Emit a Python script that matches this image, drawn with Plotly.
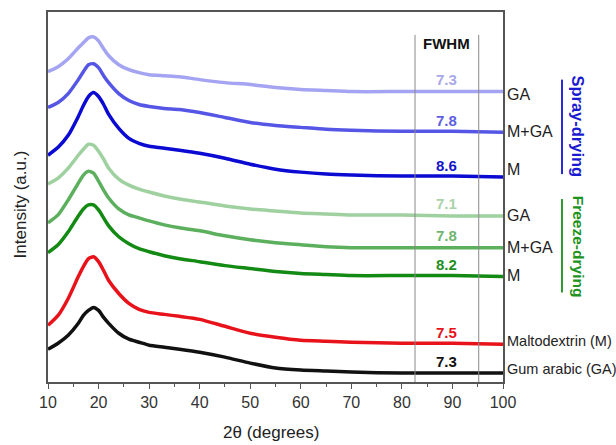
import plotly.graph_objects as go

# 2-theta grid (degrees) shared by all diffractograms
two_theta = [10, 12, 14, 16, 17, 18, 19, 20, 21, 22, 24, 26, 28, 30, 33, 36,
             40, 45, 50, 55, 60, 65, 70, 80, 90, 100]

# Stacked intensities (a.u.), bottom to top
gum_arabic = [33, 39, 47, 59, 67, 72, 75, 72, 65, 59, 49, 43, 40, 37, 35, 33,
              30, 25, 19, 14, 12, 11, 10, 9, 9, 9]
maltodextrin = [57, 67, 84, 106, 116, 124, 126, 121, 112, 102, 89, 79, 73, 70, 68, 66,
                63, 56, 49, 45, 42, 41, 40, 39, 39, 38]
freeze_m = [130, 138, 151, 167, 174, 178, 178, 173, 165, 157, 146, 139, 134, 131, 127, 124,
            121, 117, 114, 111, 109, 108, 107, 107, 107, 106]
freeze_mga = [160, 168, 183, 200, 208, 212, 210, 202, 193, 185, 174, 168, 165, 162, 158, 155,
              152, 147, 143, 140, 138, 136, 135, 135, 135, 135]
freeze_ga = [199, 205, 215, 228, 234, 239, 238, 232, 224, 215, 204, 198, 194, 191, 187, 184,
             181, 177, 174, 172, 170, 169, 168, 168, 167, 167]
spray_m = [228, 236, 248, 267, 278, 287, 291, 287, 279, 269, 255, 245, 240, 237, 235, 233,
           230, 225, 219, 214, 211, 209, 208, 207, 207, 206]
spray_mga = [276, 281, 290, 304, 312, 319, 320, 316, 308, 301, 290, 283, 279, 277, 275, 274,
             271, 266, 261, 258, 256, 254, 253, 252, 252, 251]
spray_ga = [312, 317, 325, 336, 341, 346, 347, 343, 335, 328, 319, 314, 311, 309, 308, 307,
            304, 301, 299, 296, 294, 293, 292, 292, 292, 292]

series = [gum_arabic, maltodextrin, freeze_m, freeze_mga, freeze_ga, spray_m, spray_mga, spray_ga]
labels = ["Gum arabic (GA)", "Maltodextrin (M)", "M", "M+GA", "GA", "M", "M+GA", "GA"]
label_y = [13, 41, 107, 135, 167, 214, 252, 289]
fwhm = ["7.3", "7.5", "8.2", "7.8", "7.1", "8.6", "7.8", "7.3"]
colors = ["#111111", "#e8121a", "#138a13", "#5caf5c", "#9fd09f",
          "#0a0ad2", "#5656e6", "#a4a4f2"]
fwhm_colors = ["#111111", "#e8121a", "#1f8f1f", "#6fb56f", "#a9d3a9",
               "#1414c8", "#5e5ee0", "#a8a8e8"]

fwhm_limits = [82.6, 95.2]

font_family = "Arial, Liberation Sans, Helvetica, sans-serif"

fig = go.Figure()
for ys, col in zip(series, colors):
    fig.add_trace(go.Scatter(x=two_theta, y=ys, mode="lines",
                             line=dict(color=col, width=3.5, shape="spline", smoothing=0.6),
                             showlegend=False, hoverinfo="skip"))

annotations = []
for ys, lab, ly, fv, fc in zip(series, labels, label_y, fwhm, fwhm_colors):
    small = len(lab) > 5
    annotations.append(dict(x=100, y=ly, xref="x", yref="y", text=lab, showarrow=False,
                            xanchor="left", yanchor="middle", xshift=2,
                            font=dict(size=14.5 if small else 16, color="#222222")))
    annotations.append(dict(x=88.8, y=ys[-1] + 12, xref="x", yref="y", text="<b>%s</b>" % fv,
                            showarrow=False, xanchor="center", yanchor="middle",
                            font=dict(size=15, color=fc)))

annotations.append(dict(x=sum(fwhm_limits) / 2, y=340, xref="x", yref="y", text="<b>FWHM</b>",
                        showarrow=False, font=dict(size=15, color="#111111")))
annotations.append(dict(x=1.1648, y=257, xref="paper", yref="y", text="<b>Spray-drying</b>",
                        showarrow=False, textangle=90, xanchor="center", yanchor="middle",
                        font=dict(size=16.5, color="#1a1ad0")))
annotations.append(dict(x=1.1648, y=136, xref="paper", yref="y", text="<b>Freeze-drying</b>",
                        showarrow=False, textangle=90, xanchor="center", yanchor="middle",
                        font=dict(size=15.5, color="#1f931f")))
annotations.append(dict(x=0.5, y=0, xref="paper", yref="paper", yshift=-50, xshift=-5,
                        text="2θ (degrees)", showarrow=False, yanchor="middle",
                        font=dict(size=17, color="#222222")))
annotations.append(dict(x=0, y=0.48, xref="paper", yref="paper", xshift=-28, text="Intensity (a.u.)",
                        showarrow=False, textangle=-90, xanchor="center", yanchor="middle",
                        font=dict(size=17, color="#222222")))

shapes = []
for xv in fwhm_limits:
    shapes.append(dict(type="line", xref="x", yref="y", x0=xv, x1=xv, y0=0, y1=349,
                       line=dict(color="#8a8a8a", width=1)))
shapes.append(dict(type="line", xref="paper", yref="y", x0=1.1297, x1=1.1297, y0=209, y1=304,
                   line=dict(color="#2a2ad8", width=2)))
shapes.append(dict(type="line", xref="paper", yref="y", x0=1.1297, x1=1.1297, y0=90, y1=184,
                   line=dict(color="#2f9a2f", width=2)))

fig.update_layout(
    width=616, height=445,
    margin=dict(l=48, r=113, t=10, b=63),
    paper_bgcolor="white", plot_bgcolor="white",
    font=dict(family=font_family, color="#222222"),
    annotations=annotations, shapes=shapes,
    xaxis=dict(range=[10, 100], tickvals=[10, 20, 30, 40, 50, 60, 70, 80, 90, 100],
               ticks="outside", ticklen=5, tickwidth=1.3, tickcolor="#555555",
               minor=dict(tickvals=[15, 25, 35, 45, 55, 65, 75, 85, 95], ticks="outside",
                          ticklen=3, tickwidth=1.2, tickcolor="#555555"),
               showline=True, linecolor="#555555", linewidth=1.5, mirror=True,
               showgrid=False, zeroline=False,
               tickfont=dict(size=16, color="#333333")),
    yaxis=dict(range=[0, 372], showticklabels=False, ticks="",
               showline=True, linecolor="#555555", linewidth=1.5, mirror=True,
               showgrid=False, zeroline=False),
)

fig.write_html("out.html")
